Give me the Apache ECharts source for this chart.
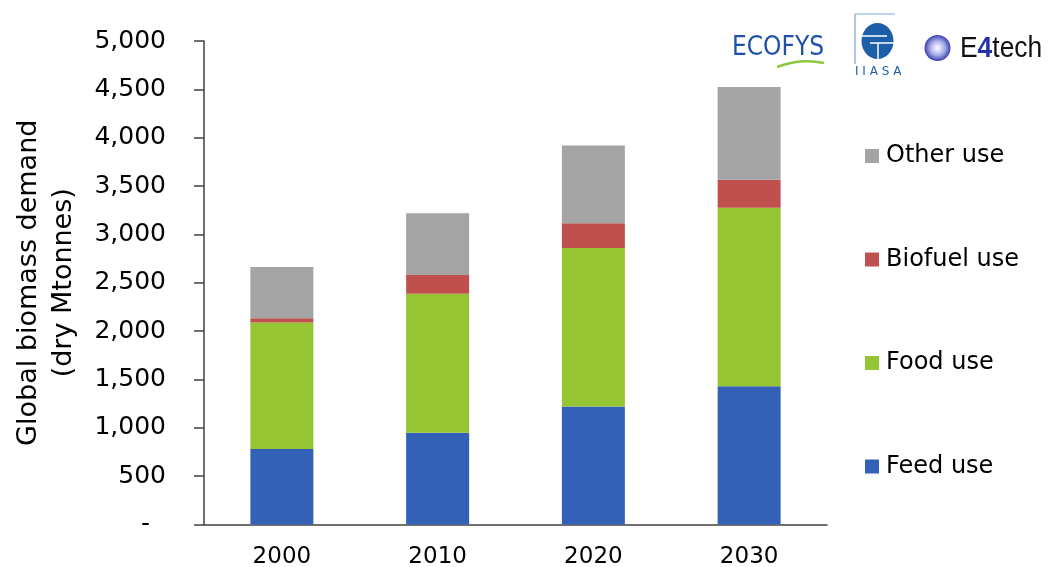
<!DOCTYPE html>
<html lang="en">
<head>
    <meta charset="UTF-8">
    <title>Global biomass demand</title>
    <script src="https://cdn.jsdelivr.net/npm/echarts@6/dist/echarts.min.js"></script>
    <style>
        html, body { margin: 0; padding: 0; background: #fff; }
    </style>
</head>
<body>
<div id="main" style="width: 1049px;height:567px;"></div>
<script>
    // data (dry Mtonnes)
    var years = ['2000', '2010', '2020', '2030'];
    var feedUse = [780, 950, 1220, 1430];
    var foodUse = [1310, 1435, 1640, 1845];
    var biofuelUse = [42, 195, 255, 290];
    var otherUse = [530, 640, 805, 960];
    var legendOrder = ['Other use', 'Biofuel use', 'Food use', 'Feed use'];

    var font = 'DejaVu Sans';
    var axisColor = '#404040';

    var myChart = echarts.init(document.getElementById('main'));

    function bar(name, data, color) {
        return {
            name: name,
            type: 'bar',
            stack: 'total',
            barWidth: 63,
            data: data,
            itemStyle: {color: color},
            emphasis: {disabled: true}
        };
    }

    var option = {
        backgroundColor: '#ffffff',
        animation: false,
        textStyle: {fontFamily: font},
        grid: {left: 204, top: 41, right: 222, bottom: 42.5, containLabel: false, outerBoundsMode: 'none'},
        legend: {
            orient: 'vertical',
            left: 865,
            top: 141,
            padding: 0,
            icon: 'rect',
            itemWidth: 14,
            itemHeight: 14,
            itemGap: 73.5,
            data: legendOrder,
            textStyle: {fontFamily: font, fontSize: 24, color: '#000', lineHeight: 30, padding: [0, 0, 0, 2]}
        },
        xAxis: {
            type: 'category',
            data: years,
            axisTick: {show: false},
            axisLine: {lineStyle: {color: axisColor, width: 1.5}},
            axisLabel: {fontFamily: font, fontSize: 23, color: '#000', margin: 21}
        },
        yAxis: {
            type: 'value',
            min: 0,
            max: 5000,
            interval: 500,
            name: 'Global biomass demand\n(dry Mtonnes)',
            nameLocation: 'middle',
            nameGap: 123,
            nameTextStyle: {fontFamily: font, fontSize: 27, color: '#000', lineHeight: 35},
            splitLine: {show: false},
            axisLine: {show: true, lineStyle: {color: axisColor, width: 1.5}},
            axisTick: {show: true, length: 10, lineStyle: {color: axisColor, width: 1.5}},
            axisLabel: {
                fontFamily: font, fontSize: 25, color: '#000', margin: 38,
                formatter: function (v) {
                    return v === 0 ? '-  ' : v.toLocaleString('en-US');
                }
            }
        },
        series: [
            bar('Feed use', feedUse, '#3361b8'),
            bar('Food use', foodUse, '#96c534'),
            bar('Biofuel use', biofuelUse, '#c0504d'),
            bar('Other use', otherUse, '#a3a4a3')
        ],
        graphic: [
            // ECOFYS logo
            {type: 'text', x: 732, y: 35, scaleX: 0.9,
                style: {text: 'ECOFYS', fontFamily: font, fontSize: 26, fill: '#1f52a6'}},
            {type: 'bezierCurve',
                shape: {x1: 777, y1: 67, x2: 824, y2: 63, cpx1: 800, cpy1: 58},
                style: {stroke: '#8dc63f', lineWidth: 2.5, fill: null}},
            // IIASA logo
            {type: 'line', shape: {x1: 855, y1: 14, x2: 855, y2: 64},
                style: {stroke: '#7aa6d8', lineWidth: 1.2}},
            {type: 'line', shape: {x1: 855, y1: 14, x2: 895, y2: 14},
                style: {stroke: '#7aa6d8', lineWidth: 1.2}},
            {type: 'ellipse', shape: {cx: 877.5, cy: 41, rx: 16, ry: 18}, style: {fill: '#1c5ea8'}},
            {type: 'line', shape: {x1: 861, y1: 36, x2: 887, y2: 36},
                style: {stroke: '#fff', lineWidth: 1.5}},
            {type: 'line', shape: {x1: 870, y1: 43, x2: 894, y2: 43},
                style: {stroke: '#fff', lineWidth: 1.5}},
            {type: 'line', shape: {x1: 878, y1: 43, x2: 878, y2: 59},
                style: {stroke: '#fff', lineWidth: 1.5}},
            {type: 'text', x: 855, y: 66,
                style: {text: 'I I A S A', fontFamily: font, fontSize: 12, fill: '#1c5ea8'}},
            // E4tech logo
            {type: 'circle', shape: {cx: 937.5, cy: 48, r: 13},
                style: {
                    fill: new echarts.graphic.RadialGradient(0.5, 0.5, 0.5, [
                        {offset: 0, color: '#ffffff'},
                        {offset: 0.55, color: '#aab0e8'},
                        {offset: 1, color: '#3a3fb0'}
                    ])
                }},
            {type: 'text', x: 960, y: 34, scaleX: 0.88,
                style: {
                    text: '{a|E}{b|4}{a|tech}',
                    rich: {
                        a: {fontFamily: 'Liberation Sans', fontSize: 30, fill: '#111'},
                        b: {fontFamily: 'Liberation Sans', fontSize: 30, fill: '#2233aa', fontWeight: 'bold'}
                    }
                }}
        ]
    };
    myChart.setOption(option);
</script>
</body>
</html>
